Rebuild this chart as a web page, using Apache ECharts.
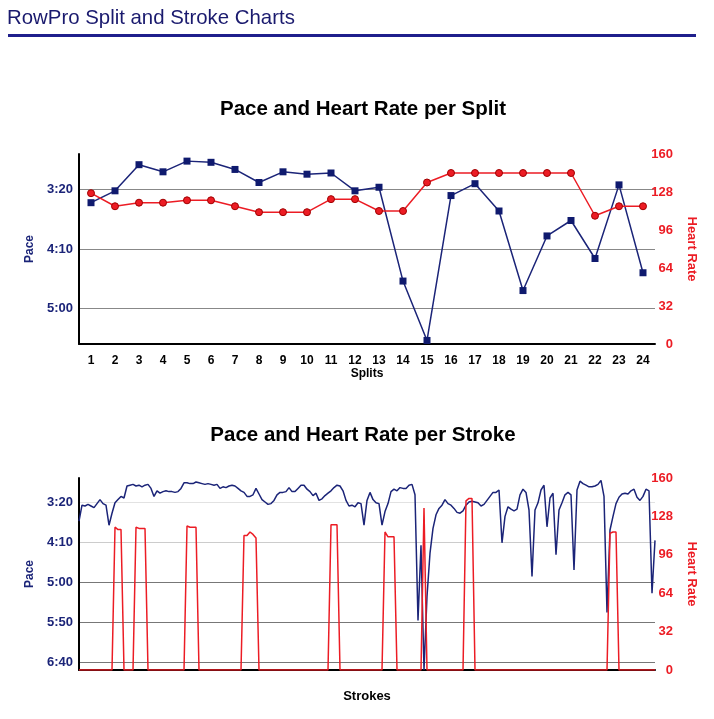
<!DOCTYPE html>
<html>
<head>
<meta charset="utf-8">
<title>RowPro Split and Stroke Charts</title>
<script src="https://cdn.jsdelivr.net/npm/echarts@6/dist/echarts.min.js"></script>
<style>
    html, body { margin: 0; padding: 0; background: #fff; }
    #chartsEl { width: 714px; height: 719px; }
</style>
</head>
<body>
<div id="chartsEl"></div>
<script>
// per split data (pace in seconds per 500m)
var splitLabels = ['1', '2', '3', '4', '5', '6', '7', '8', '9', '10', '11', '12',
    '13', '14', '15', '16', '17', '18', '19', '20', '21', '22', '23', '24'];
var splitPace = [211, 201, 179, 185, 176, 177, 183, 194, 185, 187, 186, 201,
    198, 277, 327, 205, 195, 218, 285, 239, 226, 258, 196, 270];
var splitHR = [127, 116, 119, 119, 121, 121, 116, 111, 111, 111, 122, 122,
    112, 112, 136, 144, 144, 144, 144, 144, 144, 108, 116, 116];

// per stroke data
var strokePace = [
    224, 204, 205, 203, 205, 207, 202, 197, 202, 204, 229, 214, 201, 197, 193, 195, 180, 179, 178, 180,
    179, 181, 179, 178, 183, 193, 186, 189, 187, 186, 187, 187, 188, 187, 183, 176, 176, 177, 177, 175,
    176, 177, 178, 177, 178, 179, 178, 183, 181, 182, 180, 179, 180, 183, 186, 188, 193, 193, 191, 183,
    190, 197, 200, 203, 202, 198, 191, 188, 188, 187, 182, 187, 187, 183, 179, 179, 184, 187, 192, 189,
    198, 196, 192, 189, 186, 182, 179, 180, 186, 198, 205, 204, 206, 201, 202, 229, 198, 188, 197, 201,
    202, 229, 212, 202, 187, 184, 186, 182, 183, 183, 179, 178, 191, 348, 254, 410, 318, 264, 233, 216,
    208, 204, 197, 202, 204, 208, 213, 214, 211, 204, 200, 199, 200, 201, 205, 203, 198, 193, 188, 188,
    185, 251, 218, 206, 209, 211, 209, 191, 184, 188, 210, 293, 210, 201, 185, 179, 231, 195, 189, 266,
    210, 201, 191, 188, 191, 285, 185, 174, 177, 179, 181, 181, 180, 178, 173, 193, 338, 235, 218, 202,
    194, 190, 189, 190, 186, 184, 194, 198, 193, 184, 186, 314, 248
];
var strokeHR = [
    0, 0, 0, 0, 0, 0, 0, 0, 0, 0, 0, 0, 119, 117, 117, 0, 0, 0, 0, 119,
    118, 118, 118, 0, 0, 0, 0, 0, 0, 0, 0, 0, 0, 0, 0, 0, 120, 119, 119, 119,
    0, 0, 0, 0, 0, 0, 0, 0, 0, 0, 0, 0, 0, 0, 0, 112, 112, 115, 113, 110,
    0, 0, 0, 0, 0, 0, 0, 0, 0, 0, 0, 0, 0, 0, 0, 0, 0, 0, 0, 0,
    0, 0, 0, 0, 121, 121, 121, 0, 0, 0, 0, 0, 0, 0, 0, 0, 0, 0, 0, 0,
    0, 0, 115, 111, 111, 111, 0, 0, 0, 0, 0, 0, 0, 0, 0, 135, 0, 0, 0, 0,
    0, 0, 0, 0, 0, 0, 0, 0, 0, 141, 143, 143, 0, 0, 0, 0, 0, 0, 0, 0,
    0, 0, 0, 0, 0, 0, 0, 0, 0, 0, 0, 0, 0, 0, 0, 0, 0, 0, 0, 0,
    0, 0, 0, 0, 0, 0, 0, 0, 0, 0, 0, 0, 0, 0, 0, 0, 0, 114, 115, 115,
    0, 0, 0, 0, 0, 0, 0, 0, 0, 0, 0, 0, 0
];

// tick labels
var paceTicksSplit = [200, 250, 300];
var paceTicksStroke = [200, 250, 300, 350, 400];

var navy = '#1b2478';
var red = '#ec1c24';
var fontFam = '"Liberation Sans", Arial, Helvetica, sans-serif';

var strokeNums = strokePace.map(function (v, i) { return String(i + 1); });

function paceFmt(val) {
    var m = Math.floor(val / 60);
    var s = Math.round(val - m * 60);
    return m + ':' + (s < 10 ? '0' : '') + s;
}

function paceAxis(idx, max, ticks, lineColors) {
    return {
        type: 'value',
        gridIndex: idx,
        position: 'left',
        inverse: true,
        min: 170,
        max: max,
        name: 'Pace',
        nameLocation: 'middle',
        nameGap: 36,
        nameTextStyle: { color: navy, fontWeight: 'bold', fontSize: 12 },
        axisLine: { show: true, lineStyle: { color: '#000', width: 2 } },
        axisTick: { show: false, customValues: ticks },
        axisLabel: {
            customValues: ticks,
            formatter: paceFmt,
            color: navy,
            fontWeight: 'bold',
            fontSize: 13,
            margin: 6
        },
        splitLine: { show: true, lineStyle: { color: lineColors, width: 1 } }
    };
}

function hrAxis(idx) {
    return {
        type: 'value',
        gridIndex: idx,
        position: 'right',
        min: 0,
        max: 160,
        interval: 32,
        name: 'Heart Rate',
        nameLocation: 'middle',
        nameRotate: -90,
        nameGap: 30,
        nameTextStyle: { color: red, fontWeight: 'bold', fontSize: 13 },
        axisLine: { show: false },
        axisTick: { show: false },
        axisLabel: { color: red, fontWeight: 'bold', fontSize: 13, align: 'right', margin: 18 },
        splitLine: { show: false }
    };
}

var chart = echarts.init(document.getElementById('chartsEl'));
var option = {
    animation: false,
    textStyle: { fontFamily: fontFam },
    title: [
        {
            text: 'RowPro Split and Stroke Charts',
            left: 7, top: 8, padding: 0,
            textStyle: { fontSize: 20.4, fontWeight: 'normal', color: '#1a1a6e', fontFamily: fontFam }
        },
        {
            text: 'Pace and Heart Rate per Split',
            left: 363, top: 99, padding: 0, textAlign: 'center',
            textStyle: { fontSize: 20.5, fontWeight: 'bold', color: '#000', fontFamily: fontFam }
        },
        {
            text: 'Pace and Heart Rate per Stroke',
            left: 363, top: 425, padding: 0, textAlign: 'center',
            textStyle: { fontSize: 20.5, fontWeight: 'bold', color: '#000', fontFamily: fontFam }
        }
    ],
    graphic: [{
        type: 'line',
        shape: { x1: 8, y1: 35.5, x2: 696, y2: 35.5 },
        style: { stroke: '#1f1f8c', lineWidth: 3 }
    }],
    grid: [
        { left: 79, right: 59, top: 154, height: 190 },
        { left: 79, right: 59, top: 478, height: 192 }
    ],
    xAxis: [
        {
            type: 'category',
            gridIndex: 0,
            data: splitLabels,
            boundaryGap: true,
            name: 'Splits',
            nameLocation: 'middle',
            nameGap: 21,
            nameTextStyle: { color: '#000', fontWeight: 'bold', fontSize: 12 },
            axisLine: { lineStyle: { color: '#000', width: 2 } },
            axisTick: { show: false },
            axisLabel: { color: '#000', fontWeight: 'bold', fontSize: 12, margin: 11, interval: 0 }
        },
        {
            type: 'category',
            gridIndex: 1,
            data: strokeNums,
            boundaryGap: false,
            name: 'Strokes',
            nameLocation: 'middle',
            nameGap: 20,
            nameTextStyle: { color: '#000', fontWeight: 'bold', fontSize: 13 },
            axisLine: { lineStyle: { color: '#000', width: 2 } },
            axisTick: { show: false },
            axisLabel: { show: false }
        }
    ],
    yAxis: [
        paceAxis(0, 330, paceTicksSplit, ['#888']),
        hrAxis(0),
        paceAxis(1, 410, paceTicksStroke, ['#e2e2e2', '#cccccc', '#777', '#777', '#777']),
        hrAxis(1)
    ],
    series: [
        {
            name: 'Pace',
            type: 'line',
            xAxisIndex: 0,
            yAxisIndex: 0,
            data: splitPace,
            symbol: 'rect',
            symbolSize: 7,
            lineStyle: { color: navy, width: 1.5 },
            itemStyle: { color: '#0f1a6e' }
        },
        {
            name: 'Heart Rate',
            type: 'line',
            xAxisIndex: 0,
            yAxisIndex: 1,
            data: splitHR,
            symbol: 'circle',
            symbolSize: 7,
            lineStyle: { color: red, width: 1.5 },
            itemStyle: { color: red, borderColor: '#a00000', borderWidth: 1 }
        },
        {
            name: 'Stroke Pace',
            type: 'line',
            xAxisIndex: 1,
            yAxisIndex: 2,
            data: strokePace,
            showSymbol: false,
            lineStyle: { color: navy, width: 1.5 }
        },
        {
            name: 'Stroke Heart Rate',
            type: 'line',
            xAxisIndex: 1,
            yAxisIndex: 3,
            data: strokeHR,
            showSymbol: false,
            lineStyle: { color: red, width: 1.5 }
        }
    ]
};
chart.setOption(option);
</script>
</body>
</html>
